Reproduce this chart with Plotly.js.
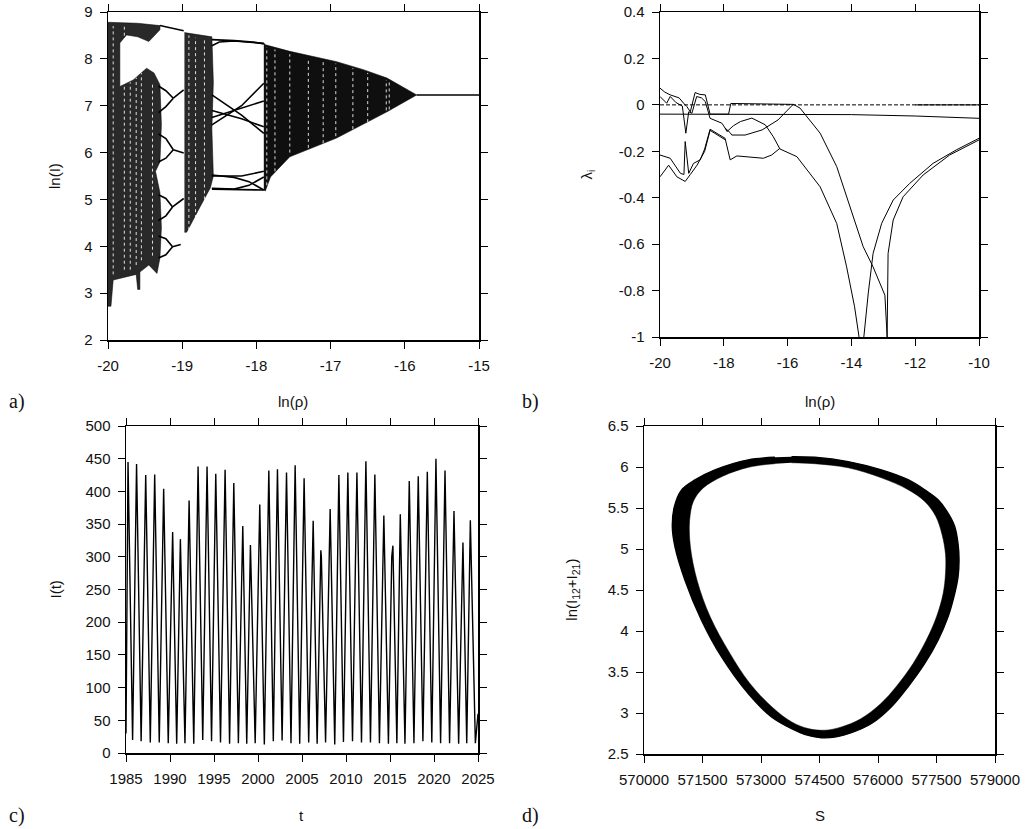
<!DOCTYPE html>
<html><head><meta charset="utf-8">
<script src="https://cdn.plot.ly/plotly-3.0.1.min.js"></script>
<style>html,body{margin:0;padding:0;background:#fff}#chart{width:1031px;height:829px}</style>
</head><body><div id="chart"></div>
<script>
// ---------- Panel a: bifurcation diagram ln(I) vs ln(rho) ----------
const bandA_x = [-20, -19.6, -19.3, -19.3, -19.45, -19.6, -19.75, -19.84, -19.84, -19.66, -19.48, -19.38, -19.3, -19.28, -19.3, -19.36, -19.3, -19.28, -19.3, -19.34, -19.45, -19.57, -19.57, -19.6, -19.62, -19.75, -19.93, -19.96, -20];
const bandA_y = [8.78, 8.76, 8.71, 8.62, 8.37, 8.47, 8.51, 8.34, 7.41, 7.55, 7.8, 7.7, 7.45, 6.6, 5.8, 5.6, 5.15, 4.4, 3.75, 3.42, 3.6, 3.45, 3.08, 3.08, 3.4, 3.35, 3.28, 2.72, 2.72];
const bandB_x = [-18.97, -18.8, -18.6, -18.58, -18.6, -18.58, -18.62, -18.76, -18.94, -18.97];
const bandB_y = [8.56, 8.52, 8.47, 7.5, 6.5, 5.5, 5.25, 4.84, 4.3, 4.3];
const bandD_x = [-17.9, -17.88, -17.55, -16.92, -16.56, -16.24, -15.84, -16.24, -16.92, -17.32, -17.55, -17.81, -17.88, -17.9];
const bandD_y = [8.34, 8.3, 8.16, 7.94, 7.77, 7.59, 7.23, 6.87, 6.31, 6.06, 5.91, 5.48, 5.18, 5.2];
// light vertical streaks (sparse columns / periodic windows)
const streakX  = [-19.93, -19.78, -19.7, -19.62, -19.55, -19.4, -18.91, -18.82, -18.7, -17.86, -17.75, -17.55, -17.3, -17.1, -16.93, -16.7, -16.5, -16.25, -16.21];
const streakLo = [3.4, 3.5, 3.5, 3.6, 3.7, 3.8, 4.35, 4.6, 5.0, 5.3, 5.6, 6.0, 6.1, 6.2, 6.35, 6.5, 6.65, 6.9, 6.92];
const streakHi = [8.7, 8.7, 7.5, 7.6, 7.7, 7.5, 8.5, 8.45, 8.4, 8.25, 8.2, 8.1, 8.0, 7.95, 7.9, 7.8, 7.7, 7.55, 7.53];
const branches = [
  {x: [-19.3, -19.15, -18.98], y: [8.71, 8.66, 8.6]},
  {x: [-19.32, -19.22, -19.12], y: [7.42, 7.32, 7.16]},
  {x: [-19.32, -19.22, -19.12], y: [6.85, 6.98, 7.16]},
  {x: [-19.12, -18.98], y: [7.16, 7.34]},
  {x: [-19.32, -19.22, -19.12], y: [6.4, 6.3, 6.06]},
  {x: [-19.32, -19.22, -19.12], y: [5.8, 5.88, 6.06]},
  {x: [-19.12, -18.98], y: [6.06, 5.99]},
  {x: [-19.32, -19.22, -19.13], y: [5.1, 5.02, 4.84]},
  {x: [-19.32, -19.22, -19.13], y: [4.55, 4.65, 4.84]},
  {x: [-19.13, -18.98], y: [4.84, 5.02]},
  {x: [-19.32, -19.22, -19.13], y: [4.22, 4.16, 3.99]},
  {x: [-19.32, -19.22, -19.13], y: [3.75, 3.82, 3.99]},
  {x: [-19.13, -19.02], y: [3.99, 4.04]},
  {x: [-18.6, -18.3, -18.0, -17.9], y: [8.41, 8.39, 8.35, 8.32]},
  {x: [-18.6, -18.5, -18.3, -17.9], y: [8.28, 8.36, 8.38, 8.33]},
  {x: [-18.6, -18.2, -17.9], y: [7.23, 6.8, 6.41]},
  {x: [-18.6, -18.2, -17.9], y: [6.59, 7.0, 7.48]},
  {x: [-18.6, -18.2, -17.9], y: [6.9, 6.72, 6.55]},
  {x: [-18.6, -18.2, -17.9], y: [6.75, 6.95, 7.1]},
  {x: [-18.6, -18.3, -18.1, -17.9], y: [5.52, 5.47, 5.38, 5.2]},
  {x: [-18.6, -18.3, -18.1, -17.9], y: [5.24, 5.22, 5.3, 5.48]},
  {x: [-18.6, -18.2, -17.9], y: [5.5, 5.5, 5.6]},
  {x: [-18.6, -18.2, -17.9], y: [5.22, 5.2, 5.2]},
  {x: [-15.84, -15.0], y: [7.23, 7.23]}
];

// ---------- Panel b: Lyapunov exponents ----------
const zeroX = [-20, -10], zeroY = [0, 0];
const e0x = [-20, -18, -16, -15, -14, -12, -10];
const e0y = [-0.04, -0.04, -0.04, -0.04, -0.042, -0.048, -0.058];
const e1x = [-20, -19.85, -19.68, -19.52, -19.4, -19.26, -19.16, -19.05, -18.9, -18.75, -18.58, -18.43, -17.85, -17.78, -17.0, -15.82, -15.61, -14.98, -14.46, -14.04, -13.63, -13.32, -12.95, -12.88];
const e1y = [0.072, 0.055, 0.043, 0.036, 0.03, 0.007, -0.007, -0.03, 0.053, 0.045, 0.043, -0.04, -0.04, 0.006, 0.004, 0.002, -0.014, -0.122, -0.266, -0.439, -0.611, -0.698, -0.82, -1.0];
const e2x = [-20, -19.79, -19.68, -19.5, -19.3, -19.19, -19.1, -19.0, -18.85, -18.7, -18.58, -18.43, -18.06, -17.96, -17.8, -17.75, -17.33, -16.8, -16.3, -15.82];
const e2y = [0.036, 0.007, 0.036, 0.01, -0.005, -0.122, -0.03, -0.036, 0.036, 0.03, 0.014, -0.058, -0.079, -0.1, -0.12, -0.13, -0.13, -0.108, -0.065, 0.003];
const e3x = [-17.96, -17.9, -17.7, -17.48, -17.12, -16.7, -16.45, -16.24, -15.71, -14.98, -14.46, -14.15, -13.9, -13.76];
const e3y = [-0.1, -0.115, -0.09, -0.072, -0.057, -0.086, -0.137, -0.19, -0.223, -0.353, -0.511, -0.698, -0.87, -1.0];
const e4x = [-20, -19.68, -19.36, -19.25, -19.21, -19.1, -18.95, -18.74, -18.6, -18.43, -17.96, -17.8, -17.59, -17.02, -16.76, -16.5, -16.24];
const e4y = [-0.216, -0.23, -0.295, -0.3, -0.158, -0.295, -0.252, -0.237, -0.19, -0.105, -0.144, -0.237, -0.22, -0.225, -0.23, -0.216, -0.187];
const e5x = [-20, -19.73, -19.47, -19.21, -19.05, -18.84, -18.6, -18.43, -17.96];
const e5y = [-0.31, -0.26, -0.31, -0.33, -0.3, -0.26, -0.2, -0.11, -0.15];
const e6x = [-12.0, -10.0];
const e6y = [0.0, 0.0];
const r1x = [-13.61, -13.47, -13.32, -13.05, -12.69, -12.17, -11.44, -10.71, -10.0];
const r1y = [-1.0, -0.81, -0.64, -0.51, -0.41, -0.338, -0.252, -0.194, -0.144];
const r2x = [-12.88, -12.87, -12.85, -12.69, -12.38, -11.75, -10.92, -10.0];
const r2y = [-1.0, -0.9, -0.64, -0.496, -0.396, -0.302, -0.216, -0.151];

// ---------- Panel c: I(t) ----------
const peakYears = [1985.23, 1986.20, 1987.24, 1988.26, 1989.28, 1990.30, 1991.18, 1992.17, 1993.19, 1994.21, 1995.20, 1996.26, 1997.25, 1998.27, 1999.14, 2000.20, 2001.23, 2002.21, 2003.24, 2004.22, 2005.24, 2006.27, 2007.14, 2008.20, 2009.19, 2010.21, 2011.24, 2012.26, 2013.28, 2014.30, 2015.33, 2016.17, 2017.19, 2018.21, 2019.24, 2020.22, 2021.25, 2022.27, 2023.29, 2024.13];
const peakValues = [445, 442, 425, 426, 404, 338, 327, 386, 438, 438, 427, 433, 413, 347, 318, 380, 432, 434, 429, 440, 420, 355, 310, 373, 425, 429, 429, 446, 426, 363, 317, 365, 416, 423, 430, 450, 432, 370, 322, 356];
const troughYears = [1985.75, 1986.72, 1987.76, 1988.78, 1989.80, 1990.76, 1991.70, 1992.70, 1993.72, 1994.72, 1995.74, 1996.77, 1997.77, 1998.72, 1999.68, 2000.72, 2001.74, 2002.74, 2003.75, 2004.74, 2005.76, 2006.72, 2007.68, 2008.72, 2009.71, 2010.74, 2011.76, 2012.78, 2013.80, 2014.82, 2015.78, 2016.70, 2017.72, 2018.74, 2019.75, 2020.75, 2021.77, 2022.80, 2023.72, 2024.70];
const troughValues = [20, 18, 16, 16, 15, 14, 15, 14, 20, 18, 16, 14, 15, 14, 15, 13, 18, 19, 15, 14, 16, 14, 16, 13, 17, 18, 16, 16, 15, 14, 15, 14, 15, 18, 16, 15, 15, 14, 15, 15];
const shoulderYears = [1985.0, 2007.20, 2015.20, 2025.0];
const shoulderValues = [30, 300, 300, 60];

// ---------- Panel d: attractor ring ----------
const outerS = [573783, 574380, 575234, 576088, 576771, 577198, 577540, 577796, 577967, 578052, 578078, 578052, 577967, 577796, 577540, 577198, 576771, 576344, 575832, 575320, 574893, 574551, 574210, 573783, 573270, 572673, 571990, 571477, 571050, 570794, 570726, 570777, 570965, 571306, 571819, 572673, 573356];
const outerL = [6.125, 6.118, 6.066, 5.965, 5.845, 5.722, 5.6, 5.437, 5.275, 5.066, 4.863, 4.66, 4.457, 4.173, 3.889, 3.604, 3.32, 3.077, 2.872, 2.76, 2.706, 2.698, 2.727, 2.81, 2.952, 3.236, 3.683, 4.13, 4.62, 5.026, 5.27, 5.513, 5.72, 5.842, 5.965, 6.087, 6.118];
const innerS = [573783, 574380, 575234, 576088, 576771, 577198, 577480, 577640, 577730, 577730, 577670, 577500, 577240, 576900, 576480, 576060, 575560, 575063, 574636, 574210, 573790, 573290, 572700, 572200, 571700, 571360, 571190, 571170, 571270, 571520, 572020, 572690, 573356];
const innerL = [6.052, 6.04, 5.99, 5.868, 5.724, 5.58, 5.4, 5.18, 4.94, 4.7, 4.457, 4.173, 3.889, 3.604, 3.33, 3.11, 2.93, 2.83, 2.79, 2.81, 2.89, 3.07, 3.37, 3.73, 4.17, 4.62, 5.026, 5.35, 5.585, 5.745, 5.888, 5.998, 6.04];

// ---------- tick labels ----------
const aXt = [-20, -19, -18, -17, -16, -15], aYt = [2, 3, 4, 5, 6, 7, 8, 9];
const bXt = [-20, -18, -16, -14, -12, -10], bYt = [-1, -0.8, -0.6, -0.4, -0.2, 0, 0.2, 0.4];
const cXt = [1985, 1990, 1995, 2000, 2005, 2010, 2015, 2020, 2025], cYt = [0, 50, 100, 150, 200, 250, 300, 350, 400, 450, 500];
const dXt = [570000, 571500, 573000, 574500, 576000, 577500, 579000], dYt = [2.5, 3, 3.5, 4, 4.5, 5, 5.5, 6, 6.5];

// ---------- build ----------
const W = 1031, H = 829;
const lab = v => String(v);
const traces = [];
function poly(x, y, ax, color) {
  traces.push({x, y, xaxis: 'x' + ax, yaxis: 'y' + ax, type: 'scatter', mode: 'lines', fill: 'toself', fillcolor: color, line: {width: 0.6, color: color}, hoverinfo: 'skip', showlegend: false});
}
function line(x, y, ax, w, color, dash) {
  traces.push({x, y, xaxis: 'x' + ax, yaxis: 'y' + ax, type: 'scatter', mode: 'lines', line: {width: w, color: color || '#000', dash: dash || 'solid'}, hoverinfo: 'skip', showlegend: false});
}
// a
poly(bandA_x, bandA_y, '', 'rgba(0,0,0,0.84)');
poly(bandB_x, bandB_y, '', 'rgba(0,0,0,0.84)');
poly(bandD_x, bandD_y, '', 'rgba(0,0,0,0.94)');
streakX.forEach((sx, i) => line([sx, sx], [streakLo[i], streakHi[i]], '', 1, 'rgba(255,255,255,0.85)', 'dot'));
branches.forEach(b => line(b.x, b.y, '', 1.6, '#000'));
// b
line(zeroX, zeroY, '2', 1, '#000', '4px,2px');
[[e0x, e0y], [e1x, e1y], [e2x, e2y], [e3x, e3y], [e4x, e4y], [e5x, e5y], [e6x, e6y], [r1x, r1y], [r2x, r2y]].forEach(p => line(p[0], p[1], '2', 1, '#000'));
// c
const cPts = [];
peakYears.forEach((t, i) => cPts.push([t, peakValues[i]]));
troughYears.forEach((t, i) => cPts.push([t, troughValues[i]]));
shoulderYears.forEach((t, i) => cPts.push([t, shoulderValues[i]]));
cPts.sort((a, b) => a[0] - b[0]);
line(cPts.map(p => p[0]), cPts.map(p => p[1]), '3', 1.4, '#000');
// d
traces.push({x: outerS, y: outerL, xaxis: 'x4', yaxis: 'y4', type: 'scatter', mode: 'lines', fill: 'toself', fillcolor: '#000', line: {width: 1.4, color: '#000', shape: 'spline'}, hoverinfo: 'skip', showlegend: false});
traces.push({x: innerS, y: innerL, xaxis: 'x4', yaxis: 'y4', type: 'scatter', mode: 'lines', fill: 'toself', fillcolor: '#fff', line: {width: 0.5, color: '#000', shape: 'spline'}, hoverinfo: 'skip', showlegend: false});

const tickFont = {family: 'Liberation Sans, Arial, sans-serif', size: 15, color: '#111'};
function axis(domain, range, vals, anchor) {
  return {domain, range, tickmode: 'array', tickvals: vals, ticktext: vals.map(lab), ticks: 'outside', ticklen: 7, tickwidth: 1, tickcolor: '#000',
    showline: true, linecolor: '#000', linewidth: 1.5, mirror: 'ticks', showgrid: false, zeroline: false, anchor, fixedrange: true, tickfont: tickFont, ticklabelstandoff: 4};
}
const px = v => v / W, py = v => 1 - v / H;
const layout = {
  width: W, height: H, margin: {l: 0, r: 0, t: 0, b: 0}, paper_bgcolor: '#fff', plot_bgcolor: '#fff', showlegend: false,
  font: {family: 'Liberation Sans, Arial, sans-serif', size: 15, color: '#111'},
  xaxis: axis([px(108), px(479)], [-20, -15], aXt, 'y'),
  yaxis: axis([py(340), py(12)], [2, 9], aYt, 'x'),
  xaxis2: axis([px(660), px(979)], [-20, -10], bXt, 'y2'),
  yaxis2: axis([py(337), py(12)], [-1, 0.4], bYt, 'x2'),
  xaxis3: axis([px(126), px(478)], [1985, 2025], cXt, 'y3'),
  yaxis3: axis([py(753), py(426)], [0, 500], cYt, 'x3'),
  xaxis4: axis([px(644), px(995)], [570000, 579000], dXt, 'y4'),
  yaxis4: axis([py(754), py(426)], [2.5, 6.5], dYt, 'x4'),
  annotations: []
};
const titleFont = {family: 'Liberation Sans, Arial, sans-serif', size: 15, color: '#111'};
const serif = {family: 'Liberation Serif, DejaVu Serif, serif', size: 20, color: '#111'};
function ann(text, x, y, font, angle) {
  layout.annotations.push({text, x: px(x), y: py(y), xref: 'paper', yref: 'paper', showarrow: false, xanchor: 'center', yanchor: 'middle', font, textangle: angle || 0});
}
ann('ln(ρ)', 293.3, 401, titleFont);
ann('ln(ρ)', 819.5, 401, titleFont);
ann('t', 301.8, 815, titleFont);
ann('S', 819.7, 815, titleFont);
ann('ln(I)', 55, 176, titleFont, -90);
ann('λ<sub>i</sub>', 587, 174.5, titleFont, -90);
ann('I(t)', 55, 589.5, titleFont, -90);
ann('ln(I<sub>12</sub>+I<sub>21</sub>)', 571.7, 590, titleFont, -90);
ann('a)', 17, 401, serif);
ann('b)', 530, 401, serif);
ann('c)', 17, 815, serif);
ann('d)', 530, 815, serif);

Plotly.newPlot('chart', traces, layout, {staticPlot: true, displayModeBar: false});
</script></body></html>
